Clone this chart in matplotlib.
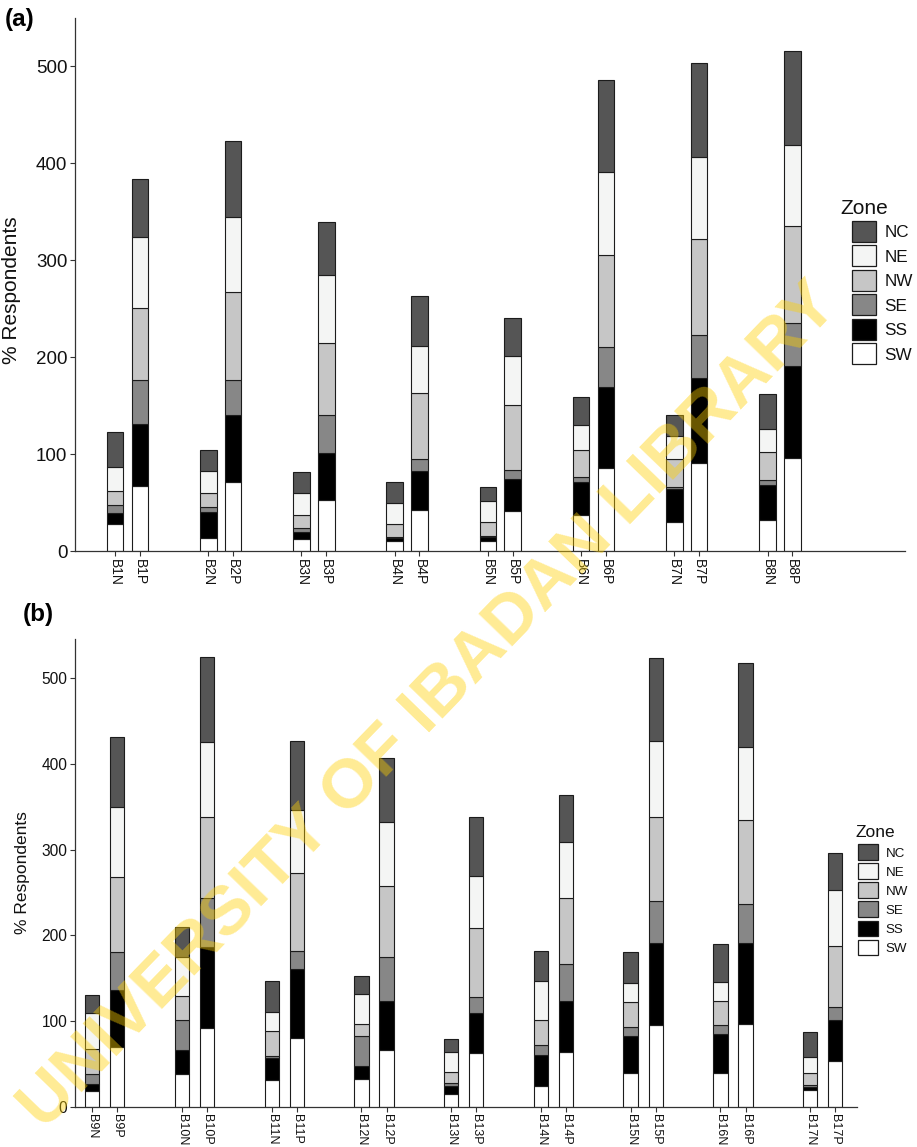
import matplotlib
matplotlib.use('Agg')
import matplotlib.pyplot as plt
from matplotlib.patches import Rectangle

plt.rcParams['font.family'] = ['Liberation Sans', 'DejaVu Sans']

# ---------------- data ----------------
zones = ['NC', 'NE', 'NW', 'SE', 'SS', 'SW']          # legend order
stack_order = ['SW', 'SS', 'SE', 'NW', 'NE', 'NC']    # bottom -> top
zone_colors = {'NC': '#555555', 'NE': '#F4F5F4', 'NW': '#C6C6C6',
               'SE': '#878787', 'SS': '#000000', 'SW': '#FFFFFF'}

a_labels = ['B1N', 'B1P', 'B2N', 'B2P', 'B3N', 'B3P', 'B4N', 'B4P',
            'B5N', 'B5P', 'B6N', 'B6P', 'B7N', 'B7P', 'B8N', 'B8P']
a_SW = [27.5, 67.0, 13.7, 70.8, 12.1, 52.6, 10.6, 42.3, 10.6, 41.6, 36.7, 85.2, 30.1, 90.4, 32.2, 96.3]
a_SS = [11.4, 63.6, 26.8, 69.1, 7.8, 48.1, 3.1, 40.5, 4.0, 32.3, 34.8, 84.0, 34.1, 87.8, 35.8, 94.4]
a_SE = [8.5, 46.0, 5.2, 36.4, 3.5, 39.2, 1.1, 12.4, 1.0, 9.6, 4.6, 40.7, 2.2, 45.0, 5.0, 44.4]
a_NW = [14.5, 74.2, 13.8, 90.4, 13.7, 74.9, 13.0, 67.4, 14.0, 67.3, 28.5, 94.8, 28.9, 98.2, 28.9, 99.6]
a_NE = [24.4, 72.9, 23.3, 77.3, 22.4, 70.1, 22.0, 49.1, 22.3, 50.2, 24.9, 85.8, 22.9, 85.1, 24.1, 83.7]
a_NC = [36.1, 59.8, 21.3, 79.0, 21.6, 54.3, 21.7, 51.5, 14.4, 38.9, 29.6, 94.8, 21.7, 96.9, 35.9, 97.4]

b_labels = ['B9N', 'B9P', 'B10N', 'B10P', 'B11N', 'B11P', 'B12N', 'B12P', 'B13N',
            'B13P', 'B14N', 'B14P', 'B15N', 'B15P', 'B16N', 'B16P', 'B17N', 'B17P']
b_SW = [18.3, 70.0, 37.8, 91.5, 31.2, 79.8, 32.7, 66.2, 14.8, 63.0, 24.2, 64.2, 39.7, 95.3, 39.0, 96.5, 19.5, 53.7]
b_SS = [7.8, 66.2, 28.4, 94.5, 25.3, 81.2, 15.1, 57.5, 9.7, 46.0, 36.1, 59.5, 42.8, 95.4, 45.5, 94.2, 3.1, 47.5]
b_SE = [12.1, 44.7, 35.0, 57.9, 2.7, 20.7, 34.7, 50.6, 2.8, 18.7, 11.7, 43.2, 10.8, 49.7, 10.8, 45.8, 2.7, 14.8]
b_NW = [28.8, 86.8, 28.0, 94.5, 29.1, 90.6, 14.0, 83.6, 13.5, 80.5, 28.8, 76.3, 28.5, 98.0, 28.4, 98.0, 13.7, 71.9]
b_NE = [42.0, 81.7, 45.1, 87.5, 22.6, 73.9, 34.7, 73.9, 22.7, 61.3, 45.9, 66.0, 22.9, 88.7, 22.2, 85.6, 19.3, 65.0]
b_NC = [21.3, 82.3, 35.7, 98.5, 35.4, 80.9, 21.3, 75.4, 15.1, 68.9, 35.3, 54.5, 36.2, 96.1, 43.6, 98.0, 28.5, 42.8]

y_ticks = [0, 100, 200, 300, 400, 500]

# ---------------- figure ----------------
W, H = 917, 1147
fig = plt.figure(figsize=(W / 100, H / 100), dpi=100)
EDGE = '#1c1c1c'


def axes_px(l, t, r, b):
    return fig.add_axes([l / W, 1 - b / H, (r - l) / W, (b - t) / H])


def draw_panel(ax, labels, data, width, offset, xlim, ylim, xfs, yfs):
    xs = [i // 2 + (-offset if lab.endswith('N') else offset) for i, lab in enumerate(labels)]
    bottom = [0.0] * len(labels)
    for z in stack_order:
        vals = data[z]
        ax.bar(xs, vals, width=width, bottom=bottom, color=zone_colors[z],
               edgecolor=EDGE, linewidth=0.8, zorder=2)
        bottom = [b + v for b, v in zip(bottom, vals)]
    ax.set_xticks(xs)
    ax.set_xticklabels(labels, rotation=270, fontsize=xfs)
    ax.set_yticks(y_ticks)
    ax.set_yticklabels([str(t) for t in y_ticks], fontsize=yfs)
    ax.set_xlim(*xlim)
    ax.set_ylim(*ylim)
    for s in ['top', 'right']:
        ax.spines[s].set_visible(False)
    for s in ['left', 'bottom']:
        ax.spines[s].set_color('#333333')
        ax.spines[s].set_linewidth(0.9)
    ax.tick_params(axis='both', length=3.5, width=0.8, color='#333333', labelcolor='#111111')
    ax.tick_params(axis='x', pad=2)
    ax.tick_params(axis='y', pad=2)


def draw_legend(title_x, title_base, title_fs, key_x, key_w, key_h, first_top, pitch,
                label_x, label_fs):
    fig.text(title_x / W, 1 - title_base / H, 'Zone', fontsize=title_fs,
             ha='left', va='baseline', color='#111111')
    cap = 0.716 * label_fs * 100 / 72
    for i, z in enumerate(zones):
        top = first_top + i * pitch
        fig.add_artist(Rectangle((key_x / W, 1 - (top + key_h) / H), key_w / W, key_h / H,
                                 transform=fig.transFigure, facecolor=zone_colors[z],
                                 edgecolor=EDGE, linewidth=0.9))
        fig.text(label_x / W, 1 - (top + key_h / 2 + cap / 2) / H, z, fontsize=label_fs,
                 ha='left', va='baseline', color='#111111')


# Panel (a)
axA = axes_px(75, 18.3, 905, 551)
dataA = {'SW': a_SW, 'SS': a_SS, 'SE': a_SE, 'NW': a_NW, 'NE': a_NE, 'NC': a_NC}
draw_panel(axA, a_labels, dataA, width=0.177, offset=0.133,
           xlim=(-0.563, 8.342), ylim=(0, 549.2), xfs=10, yfs=13.5)
axA.set_ylabel('% Respondents', fontsize=15, color='#111111')
axA.yaxis.set_label_coords((21 - 75) / 830, 0.49)
draw_legend(840, 213.8, 15, 852.3, 23.4, 21, 220.6, 24.54, 884.5, 12.3)

# Panel (b)
axB = axes_px(75, 639.3, 856.7, 1106.7)
dataB = {'SW': b_SW, 'SS': b_SS, 'SE': b_SE, 'NW': b_NW, 'NE': b_NE, 'NC': b_NC}
draw_panel(axB, b_labels, dataB, width=0.159, offset=0.140,
           xlim=(-0.331, 8.379), ylim=(0, 545.4), xfs=9, yfs=11.2)
axB.set_ylabel('% Respondents', fontsize=12.5, color='#111111')
axB.yaxis.set_label_coords((30 - 75) / 782, 0.5)
draw_legend(855, 836.7, 12.5, 858.3, 19.4, 15.5, 844, 19.14, 885.7, 9.6)

fig.text(5 / W, 1 - 8 / H, '(a)', fontsize=17.5, fontweight='bold', ha='left', va='top')
fig.text(23 / W, 1 - 603 / H, '(b)', fontsize=17.5, fontweight='bold', ha='left', va='top')

# watermark
fig.text(430 / W, 1 - 707 / H, 'UNIVERSITY OF IBADAN LIBRARY', rotation=46,
         ha='center', va='center', rotation_mode='anchor', fontsize=50,
         fontweight='bold', color='#FFD000', alpha=0.42, zorder=20)

fig.savefig('out.png', dpi=100, facecolor='white')
